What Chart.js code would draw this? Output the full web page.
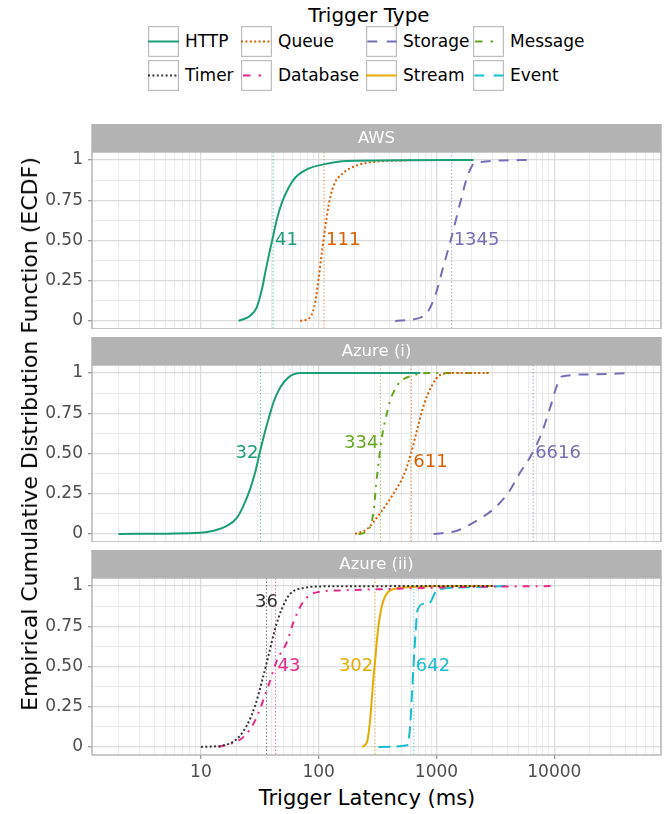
<!DOCTYPE html>
<html>
<head>
<meta charset="utf-8">
<title>Trigger latency ECDF</title>
<script src="https://cdn.jsdelivr.net/npm/chart.js@4.4.1/dist/chart.umd.min.js"></script>
<style>
  body { margin: 0; background: #fff; }
  #page { position: relative; width: 670px; height: 814px; overflow: hidden; font-family: "DejaVu Sans", sans-serif; color: #000; }
  #page canvas { position: absolute; left: 0; }
  .txt { position: absolute; white-space: nowrap; line-height: 1; }
  .key { position: absolute; width: 31px; height: 31px; }
</style>
</head>
<body>
<div id="page">
  <div class="txt" style="font-size:20px; left:0; width:738px; text-align:center; top:4.8px">Trigger Type</div>
  <div id="legend"></div>
  <canvas id="p0" width="670" height="205" style="top:124px"></canvas>
  <canvas id="p1" width="670" height="205" style="top:337px"></canvas>
  <canvas id="p2" width="670" height="235" style="top:550px"></canvas>
  <div class="txt" style="font-size:21px; left:0; width:734px; text-align:center; top:788px">Trigger Latency (ms)</div>
  <div class="txt" style="font-size:22px; left:30px; top:434px; transform:translate(-50%,-50%) rotate(-90deg)">Empirical Cumulative Distribution Function (ECDF)</div>
</div>
<script>
// ---- values ----
const xTickLabels = [10, 100, 1000, 10000];
const yTickValues = [0, 0.25, 0.5, 0.75, 1];
const yTickLabels = ['0', '0.25', '0.50', '0.75', '1'];

const typeNames = ['HTTP', 'Queue', 'Storage', 'Message', 'Timer', 'Database', 'Stream', 'Event'];

// AWS
const awsHttpMs  = [20.9, 26.2, 29.8, 33.0, 35.2, 38.2, 40.8, 44.2, 48.7, 55.5, 63.1, 79.4, 110, 173, 2060];
const awsHttpCdf = [0, 0.033, 0.085, 0.198, 0.302, 0.426, 0.519, 0.632, 0.735, 0.828, 0.89, 0.942, 0.973, 0.994, 1];
const awsQueueMs  = [69.7, 84.7, 93.4, 99.6, 106.4, 113.5, 121.1, 133.5, 162.5, 211, 312, 618];
const awsQueueCdf = [0, 0.023, 0.116, 0.26, 0.426, 0.58, 0.715, 0.839, 0.921, 0.967, 0.99, 1];
const awsStorageMs  = [446, 777, 975, 1148, 1352, 1590, 1834, 2132, 5850];
const awsStorageCdf = [0, 0.03, 0.157, 0.343, 0.529, 0.735, 0.9, 0.983, 1];
const awsMedianMs = [41, 111, 1345];

// Azure (i)
const azAHttpMs  = [2.0, 9.9, 12.8, 16.6, 20.2, 23.0, 26.2, 28.9, 31.4, 34.0, 37.5, 41.3, 47.1, 55.4, 69.7, 728];
const azAHttpCdf = [0, 0.008, 0.02, 0.05, 0.10, 0.176, 0.28, 0.383, 0.497, 0.60, 0.714, 0.817, 0.91, 0.973, 1, 1];
const azAQueueMs  = [204, 257, 333, 431, 525, 606, 682, 777, 914, 1075, 1394, 2760];
const azAQueueCdf = [0, 0.03, 0.13, 0.25, 0.362, 0.497, 0.642, 0.797, 0.922, 0.988, 1, 1];
const azAStorageMs  = [945, 1490, 2200, 3050, 4085, 5140, 6456, 7850, 9230, 10520, 11600, 21500, 45600];
const azAStorageCdf = [0, 0.02, 0.083, 0.155, 0.258, 0.383, 0.497, 0.631, 0.786, 0.921, 0.979, 0.992, 1];
const azAMessageMs  = [218, 240, 292, 307.6, 328, 351, 374, 399, 431, 492, 659, 828, 2760];
const azAMessageCdf = [0, 0.005, 0.134, 0.31, 0.487, 0.64, 0.73, 0.817, 0.88, 0.946, 0.988, 1, 1];
const azAMedianMs = [32, 611, 6616, 334];

// Azure (ii)
const azBTimerMs  = [10, 15.6, 20.2, 24.6, 28.9, 32.9, 37.5, 42.7, 48.7, 57.3, 74.3, 110, 3060];
const azBTimerCdf = [0, 0.01, 0.05, 0.134, 0.258, 0.404, 0.569, 0.735, 0.859, 0.952, 0.988, 0.998, 1];
const azBDatabaseMs  = [14.1, 19.6, 23.8, 28.9, 37.5, 44.2, 53.7, 61.1, 74.3, 90.3, 152, 292, 777, 2060, 10300];
const azBDatabaseCdf = [0, 0.03, 0.072, 0.165, 0.383, 0.538, 0.652, 0.776, 0.904, 0.956, 0.973, 0.979, 0.988, 0.995, 1];
const azBStreamMs  = [233, 257, 274, 288, 298, 322, 351, 405, 561, 1490, 2960];
const azBStreamCdf = [0, 0.03, 0.176, 0.383, 0.5, 0.755, 0.90, 0.973, 0.992, 1, 1];
const azBEventMs  = [322, 561, 598, 618, 638, 659, 690, 777, 885, 1008, 1490, 3910];
const azBEventCdf = [0, 0.01, 0.134, 0.32, 0.507, 0.672, 0.849, 0.89, 0.90, 0.975, 0.99, 1];
const azBMedianMs = [36, 43, 302, 642];

// ---- styling ----
const STYLE = {
  HTTP:     { color: '#1b9e77', dash: [] },
  Queue:    { color: '#d95f02', dash: [2, 2.4] },
  Storage:  { color: '#7570b3', dash: [10, 8] },
  Message:  { color: '#66a61e', dash: [7, 6, 2, 6] },
  Timer:    { color: '#333333', dash: [2, 2.4] },
  Database: { color: '#e7298a', dash: [7, 6, 2, 6] },
  Stream:   { color: '#e6ab02', dash: [] },
  Event:    { color: '#17becf', dash: [12, 6] }
};
const KEY_DASH = { Queue: '2 2.4', Timer: '2 2.4', Storage: '10 9.4', Event: '10 9.4', Message: '7.5 8 2.5 20', Database: '7.5 8 2.5 20' };

const panels = [
  { id: 'p0', title: 'AWS', showX: false,
    series: [['HTTP', awsHttpMs, awsHttpCdf], ['Queue', awsQueueMs, awsQueueCdf], ['Storage', awsStorageMs, awsStorageCdf]],
    medians: awsMedianMs, labelY: [0.5, 0.5, 0.5], labelAlign: ['left', 'left', 'left'] },
  { id: 'p1', title: 'Azure (i)', showX: false,
    series: [['HTTP', azAHttpMs, azAHttpCdf], ['Queue', azAQueueMs, azAQueueCdf], ['Storage', azAStorageMs, azAStorageCdf], ['Message', azAMessageMs, azAMessageCdf]],
    medians: azAMedianMs, labelY: [0.5, 0.445, 0.5, 0.565], labelAlign: ['right', 'left', 'left', 'right'] },
  { id: 'p2', title: 'Azure (ii)', showX: true,
    series: [['Timer', azBTimerMs, azBTimerCdf], ['Database', azBDatabaseMs, azBDatabaseCdf], ['Stream', azBStreamMs, azBStreamCdf], ['Event', azBEventMs, azBEventCdf]],
    medians: azBMedianMs, labelY: [0.9, 0.5, 0.5, 0.5], labelAlign: ['center', 'left', 'right', 'left'] }
];

const X_MIN = 1.19, X_MAX = 80500;
const STRIP_H = 28;
const FONT = 'DejaVu Sans';

function rgba(hex, a) {
  const n = parseInt(hex.slice(1), 16);
  return `rgba(${n >> 16},${(n >> 8) & 255},${n & 255},${a})`;
}
function isDecade(v) {
  const l = Math.log10(v);
  return Math.abs(l - Math.round(l)) < 1e-9;
}

// legend
const legend = document.getElementById('legend');
const legendCols = [148, 241, 366, 473];
const legendRows = [26, 59.5];
typeNames.forEach((t, i) => {
  const left = legendCols[i % 4], top = legendRows[Math.floor(i / 4)];
  const st = STYLE[t];
  const dash = KEY_DASH[t] ? `stroke-dasharray="${KEY_DASH[t]}"` : '';
  const x1 = (t === 'Storage' || t === 'Event') ? 1.3 : (t === 'Message' || t === 'Database') ? 2 : 0;
  legend.insertAdjacentHTML('beforeend',
    `<svg class="key" style="left:${left}px;top:${top}px" viewBox="0 0 31 31">
       <rect x="0.6" y="0.6" width="29.8" height="29.8" fill="#fff" stroke="#bdbdbd" stroke-width="1.2"/>
       <line x1="${x1}" y1="15.5" x2="31" y2="15.5" stroke="${st.color}" stroke-width="2" ${dash}/>
     </svg>
     <div class="txt" style="font-size:17px;left:${left + 37}px;top:${top + 7.3}px">${t}</div>`);
});

const panelDeco = {
  id: 'panelDeco',
  beforeDatasetsDraw(chart, args, opts) {
    const { ctx, chartArea: a, scales: { x } } = chart;
    ctx.save();
    ctx.lineWidth = 1;
    ctx.setLineDash([1.5, 2]);
    opts.panel.medians.forEach((m, i) => {
      const px = x.getPixelForValue(m);
      ctx.strokeStyle = rgba(STYLE[opts.panel.series[i][0]].color, 0.65);
      ctx.beginPath(); ctx.moveTo(px, a.top); ctx.lineTo(px, a.bottom); ctx.stroke();
    });
    ctx.restore();
  },
  afterDatasetsDraw(chart, args, opts) {
    const { ctx, chartArea: a, scales: { x, y } } = chart;
    const p = opts.panel;
    ctx.save();
    ctx.font = `18px "${FONT}"`;
    ctx.textBaseline = 'middle';
    p.medians.forEach((m, i) => {
      const px = x.getPixelForValue(m);
      const al = p.labelAlign[i];
      ctx.textAlign = al;
      ctx.fillStyle = STYLE[p.series[i][0]].color;
      const dx = al === 'left' ? 2 : al === 'right' ? -2 : 0;
      ctx.fillText(String(m), px + dx, y.getPixelForValue(p.labelY[i]));
    });
    // panel border
    ctx.strokeStyle = '#b3b3b3';
    ctx.lineWidth = 1.4;
    ctx.strokeRect(a.left, a.top, a.right - a.left, a.bottom - a.top);
    // facet strip
    ctx.fillStyle = '#b3b3b3';
    ctx.fillRect(a.left - 0.7, a.top - STRIP_H, a.right - a.left + 1.4, STRIP_H);
    ctx.fillStyle = '#ffffff';
    ctx.font = `16.5px "${FONT}"`;
    ctx.textAlign = 'center';
    ctx.fillText(p.title, (a.left + a.right) / 2, a.top - STRIP_H / 2 + 1);
    ctx.restore();
  }
};

panels.forEach(p => {
  const datasets = p.series.map(([t, ms, cdf]) => ({
    label: t,
    data: ms.map((v, i) => ({ x: v, y: cdf[i] })),
    borderColor: STYLE[t].color,
    borderDash: STYLE[t].dash,
    borderWidth: 2,
    pointRadius: 0,
    fill: false,
    cubicInterpolationMode: 'monotone'
  }));

  new Chart(document.getElementById(p.id), {
    type: 'line',
    data: { datasets },
    plugins: [panelDeco],
    options: {
      responsive: false,
      animation: false,
      layout: { padding: { top: STRIP_H, right: 9, left: 0, bottom: 0 } },
      plugins: { legend: { display: false }, tooltip: { enabled: false }, panelDeco: { panel: p } },
      scales: {
        x: {
          type: 'logarithmic',
          min: X_MIN,
          max: X_MAX,
          afterBuildTicks(scale) {
            const t = [];
            for (let k = 0; k <= 4; k++) {
              for (let m = 1; m <= 9; m++) {
                const v = m * Math.pow(10, k);
                if (v >= X_MIN && v <= X_MAX) t.push({ value: v });
              }
            }
            scale.ticks = t;
          },
          afterFit(scale) {
            scale.height = p.showX ? 30 : 0;
            scale.paddingLeft = 0;
            scale.paddingRight = 0;
          },
          border: { display: false },
          grid: {
            drawTicks: p.showX,
            tickLength: 4,
            color: c => isDecade(c.tick.value) ? '#dcdcdc' : '#ebebeb',
            lineWidth: c => isDecade(c.tick.value) ? 1.3 : 1,
            tickColor: c => (isDecade(c.tick.value) && xTickLabels.includes(c.tick.value)) ? '#999999' : 'rgba(0,0,0,0)'
          },
          ticks: {
            display: p.showX,
            autoSkip: false,
            maxRotation: 0,
            padding: 3,
            color: '#4d4d4d',
            font: { family: FONT, size: 17 },
            callback: v => xTickLabels.includes(v) ? String(v) : ''
          }
        },
        y: {
          type: 'linear',
          min: -0.05,
          max: 1.05,
          afterBuildTicks(scale) {
            const t = [];
            for (let i = 0; i <= 8; i++) t.push({ value: i / 8 });
            scale.ticks = t;
          },
          afterFit(scale) {
            scale.width = 92;
            scale.paddingTop = 0;
            scale.paddingBottom = 0;
          },
          border: { display: false },
          grid: {
            tickLength: 4,
            color: c => yTickValues.includes(c.tick.value) ? '#dcdcdc' : '#ebebeb',
            lineWidth: c => yTickValues.includes(c.tick.value) ? 1.3 : 1,
            tickColor: c => yTickValues.includes(c.tick.value) ? '#999999' : 'rgba(0,0,0,0)'
          },
          ticks: {
            autoSkip: false,
            padding: 5,
            color: '#4d4d4d',
            font: { family: FONT, size: 17 },
            callback: v => {
              const i = yTickValues.indexOf(v);
              return i >= 0 ? yTickLabels[i] : '';
            }
          }
        }
      }
    }
  });
});
</script>
</body>
</html>
